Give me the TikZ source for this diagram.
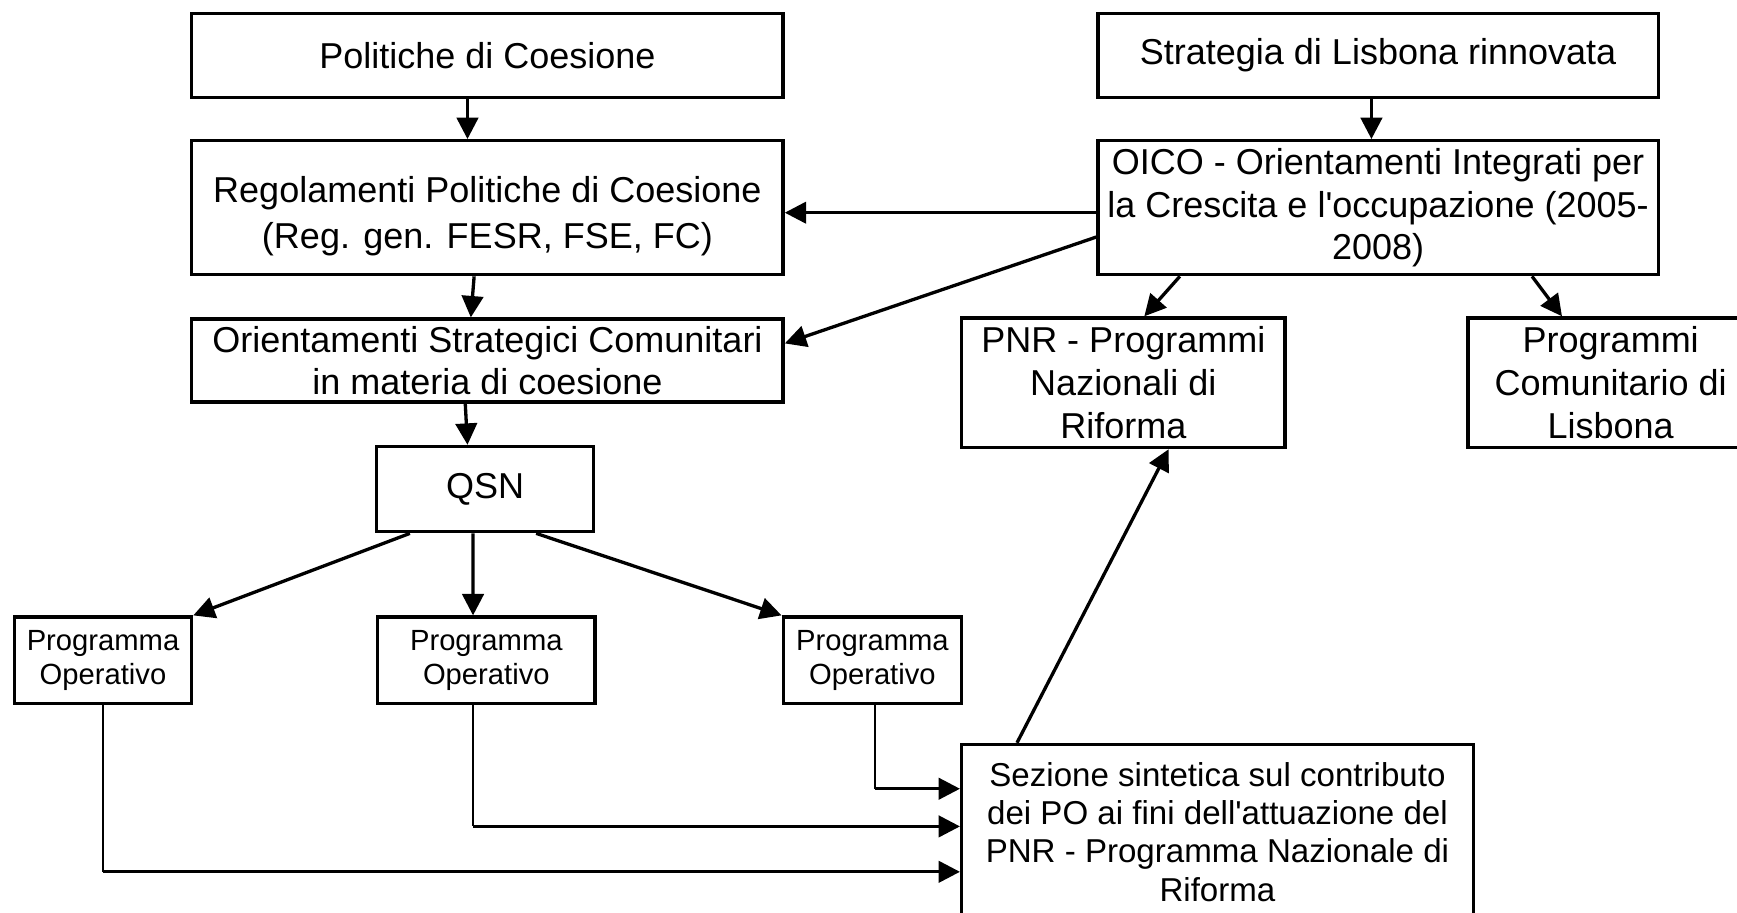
\documentclass[tikz,border=0pt]{standalone}
\usepackage{fontspec}
\setmainfont{Liberation Sans}
\usetikzlibrary{arrows.meta}

\begin{document}
\begin{tikzpicture}[x=0.02cm, y=-0.02cm,
    box/.style={draw, line width=1.7pt, align=center, inner sep=0pt, font=\fontsize{18.5}{22}\selectfont},
    pobox/.style={box, minimum width=3.2cm, minimum height=1.56cm, font=\fontsize{15}{17.6}\selectfont},
    arr/.style={line width=1.7pt, -{Triangle[length=11pt,width=11pt]}},
    thinline/.style={line width=1pt}]
  \useasboundingbox (0,0) rectangle (1568,824);
  \clip (0,0) rectangle (1568,824);

  % left column
  \node[box, minimum width=10.68cm, minimum height=1.52cm] (pol) at (440,50) {Politiche di Coesione};
  \node[box, minimum width=10.68cm, minimum height=2.42cm] (reg) at (440,187.5) {\rule{0pt}{22pt}Regolamenti Politiche di Coesione\\[2pt](Reg. gen. FESR, FSE, FC)};
  \node[box, minimum width=10.68cm, minimum height=1.5cm] (osc) at (440,325.5) {Orientamenti Strategici Comunitari\\in materia di coesione};
  \node[box, minimum width=3.92cm, minimum height=1.54cm] (qsn) at (438,441.5) {QSN};

  % right column
  \node[box, minimum width=10.12cm, minimum height=1.52cm] (lis) at (1244,50) {Strategia di Lisbona rinnovata};
  \node[box, minimum width=10.12cm, minimum height=2.42cm] (oico) at (1244,187.5) {OICO - Orientamenti Integrati per\\la Crescita e l\textquotesingle occupazione (2005-\\2008)};
  \node[box, minimum width=5.84cm, minimum height=2.34cm] (pnr) at (1014,345.5) {PNR - Programmi\\Nazionali di\\Riforma};
  \node[box, minimum width=5.16cm, minimum height=2.34cm] (pcl) at (1454,345.5) {Programmi\\Comunitario di\\Lisbona};

  % programmi operativi
  \node[pobox] (po1) at (93,596) {Programma\\Operativo};
  \node[pobox, minimum width=3.92cm] (po2) at (439,596) {Programma\\Operativo};
  \node[pobox, minimum width=3.22cm] (po3) at (787.5,596) {Programma\\Operativo};
  \node[box, minimum width=9.24cm, minimum height=3.16cm, font=\fontsize{17}{19.6}\selectfont] (sez) at (1099,751)
    {Sezione sintetica sul contributo\\dei PO ai fini dell\textquotesingle attuazione del\\PNR - Programma Nazionale di\\Riforma};

  \draw[arr] ([xshift=-0.36cm]pol.south) -- ([xshift=-0.36cm]reg.north);
  \draw[arr] ([xshift=-0.24cm]reg.south) -- ([xshift=-0.3cm]osc.north);
  \draw[arr] ([xshift=-0.4cm]osc.south) -- ([xshift=-0.32cm]qsn.north);
  \draw[arr] ([xshift=-0.12cm]lis.south) -- ([xshift=-0.12cm]oico.north);
  \draw[arr] ([yshift=-0.09cm]oico.west) -- ([yshift=-0.09cm]reg.east);
  \draw[arr] ([yshift=-0.53cm]oico.west) -- ([yshift=0.31cm]osc.east);
  \draw[arr] ([xshift=-3.58cm]oico.south) -- ([xshift=0.38cm]pnr.north);
  \draw[arr] ([xshift=2.78cm]oico.south) -- ([xshift=-0.88cm]pcl.north);

  \draw[arr] ([xshift=-1.36cm]qsn.south) -- (po1.north east);
  \draw[arr] ([xshift=-0.22cm]qsn.south) -- ([xshift=-0.24cm]po2.north);
  \draw[arr] ([xshift=0.92cm]qsn.south) -- (po3.north west);
  \draw[arr] ([xshift=-3.62cm]sez.north) -- ([xshift=0.82cm]pnr.south);

  % PO -> sezione
  \coordinate (o1) at (po1.south);
  \coordinate (o2) at ([xshift=-0.24cm]po2.south);
  \coordinate (o3) at ([xshift=0.05cm]po3.south);
  \coordinate (j1) at ([yshift=-0.72cm]sez.west);
  \coordinate (j2) at ([yshift=0.1cm]sez.west);
  \coordinate (j3) at ([yshift=0.78cm]sez.west);
  \foreach \i in {1,2,3}{
    \draw[thinline] (o\i) -- (o\i |- j\i);
    \draw[arr] (o\i |- j\i) -- (j\i);
  }
\end{tikzpicture}
\end{document}
